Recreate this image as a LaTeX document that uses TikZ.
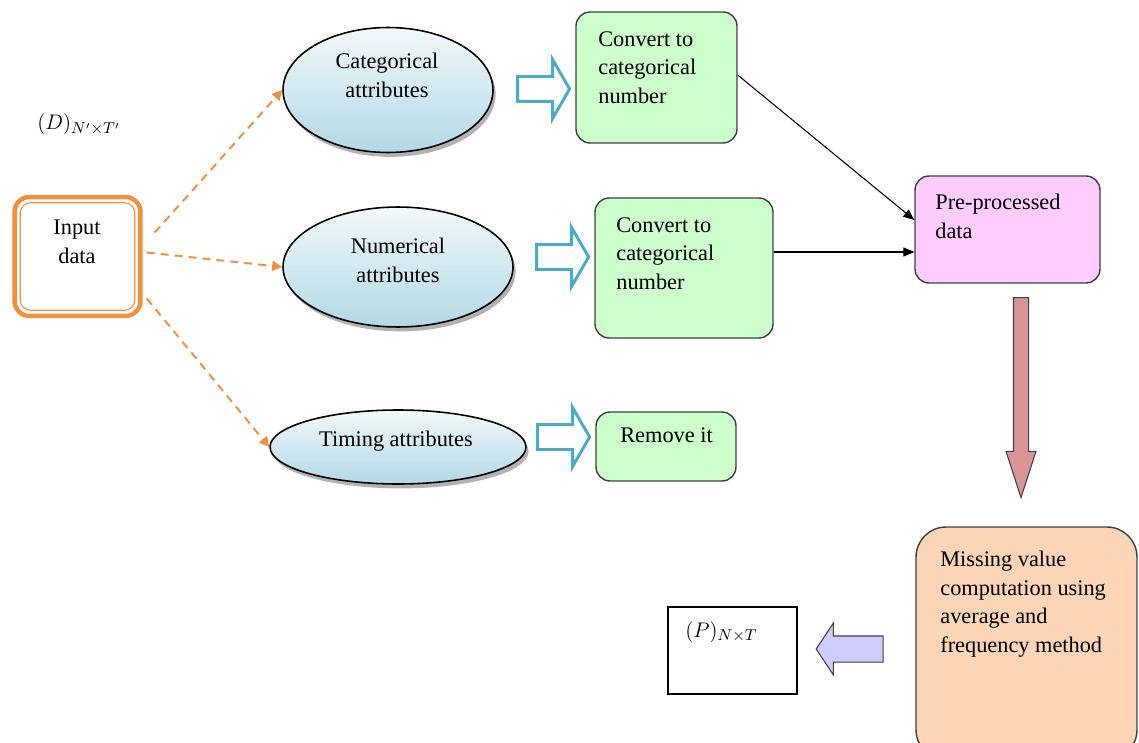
\documentclass[tikz,border=0pt]{standalone}
\usepackage{fontspec}
\setmainfont{Liberation Serif}
\usepackage{amsmath}
\usetikzlibrary{shapes.geometric,shapes.arrows,shadows,arrows.meta}
\definecolor{inputorange}{RGB}{242,144,64}
\definecolor{attrtop}{RGB}{242,249,252}
\definecolor{attrbottom}{RGB}{178,216,229}
\definecolor{hollowblue}{RGB}{75,172,198}
\definecolor{convgreen}{RGB}{204,255,204}
\definecolor{prepink}{RGB}{255,204,255}
\definecolor{misspeach}{RGB}{251,213,181}
\definecolor{downrose}{RGB}{217,149,148}
\definecolor{leftlavender}{RGB}{204,204,255}
\definecolor{boxgray}{RGB}{64,64,64}

\begin{document}
\begin{tikzpicture}[x=0.02cm, y=-0.02cm,
    txt/.style={font=\fontsize{12.7}{16.2}\selectfont, inner sep=0pt},
    attr/.style={ellipse, draw=black, line width=0.9pt, top color=attrtop, bottom color=attrbottom,
        drop shadow={shadow xshift=1.5pt, shadow yshift=-2.5pt, fill=black!60}},
    stepbox/.style={rectangle, rounded corners=0.28cm, draw=boxgray, line width=0.8pt},
    hollow/.style={single arrow, draw=hollowblue, fill=white, line width=0.06cm, inner xsep=0pt,
        inner ysep=0.22cm, single arrow head extend=0.34cm, single arrow tip angle=120, minimum height=1.04cm},
    splitline/.style={draw=inputorange, line width=1.1pt, dash pattern=on 0.16cm off 0.12cm,
        -{Triangle[length=0.2cm,width=0.2cm]}},
    joinline/.style={draw=black, line width=0.6pt, -{Triangle[length=0.22cm,width=0.18cm]}}]
    \useasboundingbox (0,0) rectangle (1139,743);
    \clip (0,0) rectangle (1139,743);

    \node[txt, anchor=base west] (dlabel) at (37,130) {$(D)_{N'\times T'}$};

    \node[draw=inputorange, line width=0.09cm, rounded corners=0.3cm, minimum width=2.52cm, minimum height=2.38cm] (in) at (77.5,256.5) {};
    \draw[inputorange, line width=0.6pt, rounded corners=0.2cm] ([shift={(8,-8)}]in.south west) rectangle ([shift={(-8,8)}]in.north east);
    \node[txt, align=center, anchor=north] (intext) at (77,220) {Input\\data};

    \node[attr, minimum width=4.2cm, minimum height=2.5cm] (cat) at (388,90) {};
    \node[attr, minimum width=4.6cm, minimum height=2.4cm] (num) at (398,267) {};
    \node[attr, minimum width=5.12cm, minimum height=1.48cm] (tim) at (398,447) {};
    \node[txt, align=center, anchor=north] (cattext) at (387,53) {Categorical\\attributes};
    \node[txt, align=center, anchor=north] (numtext) at (398,238) {Numerical\\attributes};
    \node[txt, anchor=north] (timtext) at (396,431) {Timing attributes};

    \draw[splitline] ([shift={(12,-24)}]in.east) -- (cat.west);
    \draw[splitline] ([shift={(4,-4)}]in.east) -- (num.west);
    \draw[splitline] ([shift={(4,42)}]in.east) -- (tim.west);

    \node[hollow] (h1) at (540,89) {};
    \node[hollow] (h2) at (559,257) {};
    \node[hollow] (h3) at (560,437) {};

    \node[stepbox, fill=convgreen, minimum width=3.22cm, minimum height=2.62cm] (conv1) at (656.5,77.5) {};
    \node[stepbox, fill=convgreen, minimum width=3.56cm, minimum height=2.8cm] (conv2) at (684,268) {};
    \node[stepbox, fill=convgreen, minimum width=2.8cm, minimum height=1.38cm] (remove) at (666,446.5) {};
    \node[txt, align=left, anchor=north west] (conv1text) at (598,31) {Convert to\\categorical\\number};
    \node[txt, align=left, anchor=north west] (conv2text) at (616,217) {Convert to\\categorical\\number};
    \node[txt, anchor=north west] (removetext) at (620,427) {Remove it};

    \node[stepbox, fill=prepink, minimum width=3.7cm, minimum height=2.14cm] (pre) at (1007.5,229.5) {};
    \node[txt, align=left, anchor=north west] (pretext) at (935,194) {Pre-processed\\data};

    \draw[joinline] ([yshift=0.05cm]conv1.east) -- ([yshift=0.19cm]pre.west);
    \draw[joinline] ([yshift=0.32cm]conv2.east) -- ([yshift=0.32cm]conv2.east -| pre.west);

    \node[single arrow, shape border rotate=270, draw=boxgray, fill=downrose, line width=0.6pt, inner ysep=0pt,
        inner xsep=0.14cm, single arrow head extend=0.15cm, single arrow tip angle=36, minimum height=4cm] (down) at (1021,386) {};

    \node[stepbox, rounded corners=0.6cm, fill=misspeach, minimum width=4.42cm, minimum height=4.66cm] (miss) at (1026.5,643.5) {};
    \node[txt, align=left, anchor=north west] (misstext) at (940,551) {Missing value\\computation using\\average and\\frequency method};

    \node[single arrow, shape border rotate=180, draw=boxgray, fill=leftlavender, line width=0.6pt, inner xsep=0pt,
        inner ysep=0.25cm, single arrow head extend=0.26cm, single arrow tip angle=113, minimum height=1.34cm] (left) at (854,649) {};

    \node[draw=black, line width=0.7pt, minimum width=2.58cm, minimum height=1.74cm] (out) at (732.5,650.5) {};
    \node[txt, anchor=base west] (outtext) at (685,637) {$(P)_{N\times T}$};
\end{tikzpicture}
\end{document}
